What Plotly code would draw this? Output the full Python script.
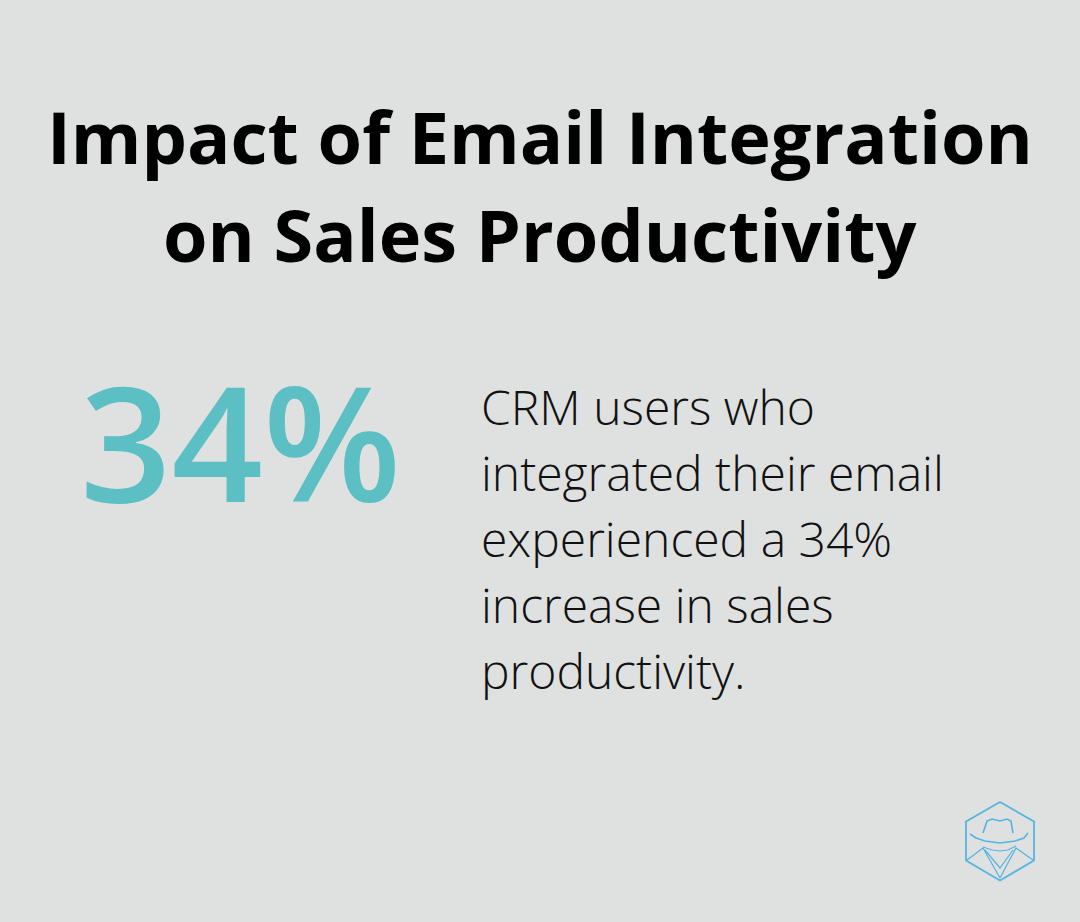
import plotly.graph_objects as go

BG = "#dfe1e0"
TEAL = "#5bbfc4"
LOGO_BLUE = "#55b4e0"

title_lines = ["Impact of Email Integration", "on Sales Productivity"]
title_y = [136, 234]
big_number = "34%"
body_lines = [
    "CRM users who",
    "integrated their email",
    "experienced a 34%",
    "increase in sales",
    "productivity.",
]
body_y = [406, 472, 538, 604, 670]

# logo outlines, in page pixels
hex_x = [1000, 1034, 1034, 1000, 966, 966, 1000]
hex_y = [802, 821.5, 860.5, 880.5, 860.5, 821.5, 802]
crown_x = [983, 987, 992, 1000, 1007, 1011, 1013]
crown_y = [833, 821, 819, 821, 819, 821, 833]
brim_x = [970, 976, 985, 1000, 1015, 1024, 1028]
brim_y = [834, 838, 841, 843, 841, 838, 833]
brim2_x = [983, 992, 1000, 1008, 1016]
brim2_y = [847, 850, 851, 850, 846]
jacket_l_x = [967, 983, 1000]
jacket_l_y = [860, 848, 878]
jacket_r_x = [1033, 1016, 1000]
jacket_r_y = [860, 848, 878]
lapel_x = [985, 1000, 1013]
lapel_y = [850, 868, 850]

fig = go.Figure()

for xs, ys, w in (
    (hex_x, hex_y, 1.8),
    (crown_x, crown_y, 1.6),
    (brim_x, brim_y, 1.6),
    (brim2_x, brim2_y, 1.2),
    (jacket_l_x, jacket_l_y, 1.2),
    (jacket_r_x, jacket_r_y, 1.2),
    (lapel_x, lapel_y, 1.2),
):
    fig.add_trace(go.Scatter(
        x=xs, y=ys, mode="lines", showlegend=False, hoverinfo="skip",
        line=dict(color=LOGO_BLUE, width=w),
    ))

for line, y in zip(title_lines, title_y):
    fig.add_annotation(
        x=540, y=y, text=line, showarrow=False, xanchor="center", yanchor="middle",
        font=dict(family="Open Sans", size=72, color="#000000", weight=700),
    )

fig.add_annotation(
    x=240, y=440, text=big_number, showarrow=False, xanchor="center", yanchor="middle",
    font=dict(family="Open Sans", size=160, color=TEAL, weight=600),
)

for line, y in zip(body_lines, body_y):
    fig.add_annotation(
        x=479, y=y, text=line, showarrow=False, xanchor="left", yanchor="middle",
        font=dict(family="Open Sans", size=48, color="#111111", weight=300),
    )

fig.update_layout(
    width=1080,
    height=922,
    margin=dict(l=0, r=0, t=0, b=0),
    paper_bgcolor=BG,
    plot_bgcolor=BG,
    xaxis=dict(range=[0, 1080], visible=False, fixedrange=True),
    yaxis=dict(range=[922, 0], visible=False, fixedrange=True),
)

# drop the browser's default page margin so the figure fills the window
fig.write_html(
    "out.html",
    config={"displayModeBar": False},
    post_script="document.body.style.margin = '0'; document.body.style.overflow = 'hidden';",
)
